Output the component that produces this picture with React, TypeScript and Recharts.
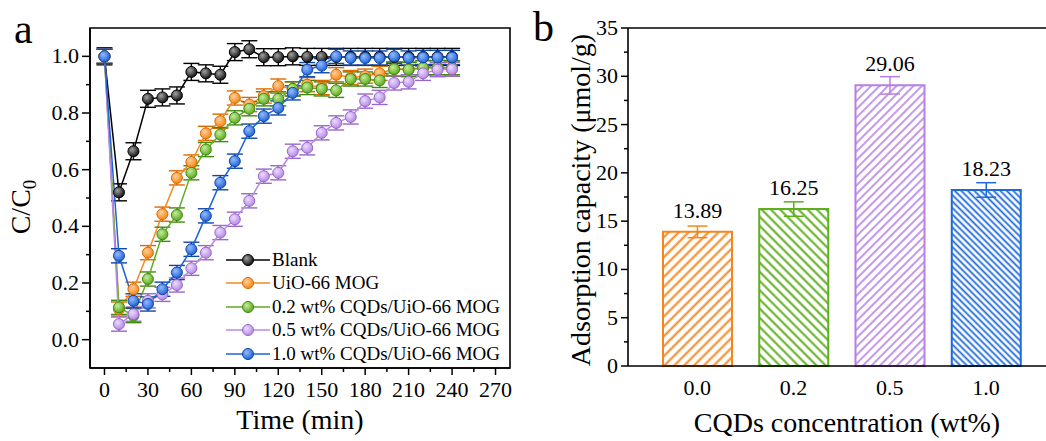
import React from 'react';
import {
  LineChart, Line, XAxis, YAxis, ErrorBar, ReferenceArea, ReferenceLine, Legend,
  BarChart, Bar, LabelList,
} from 'recharts';

// ---- panel a: C/C0 vs time ----
const times = [0, 10, 20, 30, 40, 50, 60, 70, 80, 90, 100, 110, 120, 130, 140, 150, 160, 170, 180, 190, 200, 210, 220, 230, 240];
const blank = [1.0, 0.52, 0.665, 0.85, 0.855, 0.862, 0.945, 0.94, 0.935, 1.015, 1.025, 0.997, 0.997, 1.0, 0.998, 0.998, 0.998, 0.998, 0.998, 0.998, 0.998, 0.998, 0.998, 0.998, 0.998];
const uio = [1.0, 0.108, 0.178, 0.307, 0.443, 0.571, 0.627, 0.728, 0.771, 0.853, 0.83, 0.86, 0.895, 0.885, 0.9, 0.89, 0.935, 0.925, 0.93, 0.94, 0.955, 0.955, 0.96, 0.96, 0.955];
const cqd02 = [1.0, 0.114, 0.085, 0.214, 0.372, 0.44, 0.589, 0.671, 0.724, 0.783, 0.815, 0.85, 0.85, 0.885, 0.89, 0.885, 0.88, 0.92, 0.92, 0.915, 0.955, 0.953, 0.96, 0.96, 0.96];
const cqd05 = [1.0, 0.055, 0.09, 0.137, 0.16, 0.193, 0.252, 0.307, 0.378, 0.425, 0.49, 0.577, 0.589, 0.665, 0.677, 0.73, 0.765, 0.786, 0.842, 0.855, 0.906, 0.91, 0.94, 0.953, 0.955];
const cqd10 = [1.0, 0.296, 0.137, 0.126, 0.178, 0.237, 0.319, 0.437, 0.554, 0.63, 0.736, 0.789, 0.818, 0.871, 0.953, 0.967, 1.0, 0.994, 0.994, 0.994, 1.0, 0.994, 0.996, 0.996, 0.996];
const seriesErr = [0.03, 0.025, 0.025, 0.025, 0.025];

const xTicksA = [0, 15, 30, 45, 60, 75, 90, 105, 120, 135, 150, 165, 180, 195, 210, 225, 240, 255, 270];
const yTicksA = [0, 0.1, 0.2, 0.3, 0.4, 0.5, 0.6, 0.7, 0.8, 0.9, 1.0];

const seriesA = [
  { key: 'blank', name: 'Blank', vals: blank, line: '#000000', base: '#0a0a0a', light: '#a0a0a0', edge: '#000000' },
  { key: 'uio', name: 'UiO-66 MOG', vals: uio, line: '#f7891f', base: '#f5820f', light: '#ffd09a', edge: '#d96a00' },
  { key: 'c02', name: '0.2 wt% CQDs/UiO-66 MOG', vals: cqd02, line: '#5fae22', base: '#56a618', light: '#c4ec9a', edge: '#3f8a10' },
  { key: 'c05', name: '0.5 wt% CQDs/UiO-66 MOG', vals: cqd05, line: '#b98ae6', base: '#b384e3', light: '#ecdcff', edge: '#9866cc' },
  { key: 'c10', name: '1.0 wt% CQDs/UiO-66 MOG', vals: cqd10, line: '#1c63d6', base: '#1a5fd2', light: '#94bbff', edge: '#0d47a8' },
];

const rowsA = times.map((t, i) => {
  const r: any = { t };
  seriesA.forEach((s, j) => {
    r[s.key] = s.vals[i];
    r[s.key + 'Err'] = seriesErr[j];
  });
  return r;
});

// ---- panel b: adsorption capacity ----
const cats = ['0.0', '0.2', '0.5', '1.0'];
const capacity = [13.89, 16.25, 29.06, 18.23];
const capErr = [0.6, 0.75, 0.9, 0.75];
const barColors = ['#f7851e', '#5fae1e', '#b67fe6', '#1e6ad8'];
const yTicksB = [0, 2.5, 5, 7.5, 10, 12.5, 15, 17.5, 20, 22.5, 25, 27.5, 30, 32.5, 35];

const rowsB = cats.map((c, i) => {
  const r: any = { cat: c };
  r['v' + i] = capacity[i];
  r['e' + i] = capErr[i];
  return r;
});

const FONT = "'Liberation Serif', 'Times New Roman', serif";

const XTickA = ({ x, y, payload }: any) => {
  const major = payload.value % 30 === 0;
  return (
    <g>
      <line x1={x} x2={x} y1={y} y2={y + (major ? 7 : 4)} stroke="#000" strokeWidth={1.5} />
      {major && <text x={x} y={y + 29} textAnchor="middle" fontSize={22} fill="#000">{payload.value}</text>}
    </g>
  );
};

const YTickA = ({ x, y, payload }: any) => {
  const major = Math.round(payload.value * 10) % 2 === 0;
  return (
    <g>
      <line x1={x} x2={x - (major ? 8 : 4)} y1={y} y2={y} stroke="#000" strokeWidth={1.5} />
      {major && <text x={x - 11} y={y + 7} textAnchor="end" fontSize={22} fill="#000">{payload.value.toFixed(1)}</text>}
    </g>
  );
};

const YTickB = ({ x, y, payload }: any) => {
  const major = payload.value % 5 === 0;
  return (
    <g>
      <line x1={x} x2={x - (major ? 7 : 4)} y1={y} y2={y} stroke="#000" strokeWidth={1.5} />
      {major && <text x={x - 10} y={y + 7} textAnchor="end" fontSize={22} fill="#000">{payload.value}</text>}
    </g>
  );
};

const XTickB = ({ x, y, payload }: any) => (
  <text x={x} y={y + 29} textAnchor="middle" fontSize={22} fill="#000">{payload.value}</text>
);

const makeDot = (s: any) => (p: any) => (
  <circle key={`${s.key}-${p.index}`} cx={p.cx} cy={p.cy} r={5.5} fill={`url(#ga-${s.key})`} stroke={s.edge} strokeWidth={1} />
);

const LegendA = () => (
  <div style={{ fontSize: 19, color: '#000', fontFamily: FONT }}>
    {seriesA.map((s) => (
      <div key={s.key} style={{ display: 'flex', alignItems: 'center', height: 23.5, whiteSpace: 'nowrap' }}>
        <svg width={47} height={20} style={{ flex: 'none' }}>
          <line x1={1} x2={45} y1={10} y2={10} stroke={s.line} strokeWidth={1.5} />
          <circle cx={23} cy={10} r={5.5} fill={`url(#ga-${s.key})`} stroke={s.edge} strokeWidth={1} />
        </svg>
        <span>{s.name}</span>
      </div>
    ))}
  </div>
);

export default function App() {
  return (
    <div style={{ position: 'absolute', left: 0, top: 0, width: 1046, height: 441, overflow: 'hidden', background: '#fff', fontFamily: FONT }}>
      <div style={{ position: 'absolute', left: 14, top: 8, fontSize: 42, lineHeight: '42px' }}>a</div>
      <div style={{ position: 'absolute', left: 533, top: 6, fontSize: 42, lineHeight: '42px' }}>b</div>

      <div style={{ position: 'absolute', left: 0, top: 0 }}>
        <LineChart width={520} height={441} data={rowsA} margin={{ top: 28, right: 10, bottom: 0, left: 0 }}>
          <defs>
            {seriesA.map((s) => (
              <radialGradient key={s.key} id={`ga-${s.key}`} cx="38%" cy="35%" r="70%">
                <stop offset="0%" stopColor={s.light} />
                <stop offset="100%" stopColor={s.base} />
              </radialGradient>
            ))}
          </defs>
          <XAxis
            dataKey="t" type="number" domain={[-10, 280]} ticks={xTicksA} interval={0}
            height={73} tickSize={0} tickMargin={0} tickLine={false} tick={<XTickA />}
            axisLine={{ stroke: '#000', strokeWidth: 1.6 }} allowDataOverflow
          />
          <YAxis
            type="number" domain={[-0.1, 1.1]} ticks={yTicksA} interval={0}
            width={90} tickSize={0} tickMargin={0} tickLine={false} tick={<YTickA />}
            axisLine={{ stroke: '#000', strokeWidth: 1.6 }} allowDataOverflow
          />
          <ReferenceArea x1={-10} x2={280} y1={-0.1} y2={1.1} fill="none" stroke="#000" strokeWidth={1.6} />
          {seriesA.map((s) => (
            <Line
              key={s.key} dataKey={s.key} name={s.name} type="linear" stroke={s.line} strokeWidth={1.5}
              dot={makeDot(s)} activeDot={false} isAnimationActive={false}
            >
              <ErrorBar dataKey={s.key + 'Err'} direction="y" width={8} stroke={s.edge} strokeWidth={1.4} />
            </Line>
          ))}
          <Legend layout="vertical" align="center" verticalAlign="middle" content={<LegendA />}
            wrapperStyle={{ left: 225, top: 248, width: 300 }} />
        </LineChart>
      </div>

      {/* axis titles for panel a */}
      <div style={{ position: 'absolute', left: 200, top: 404, width: 200, textAlign: 'center', fontSize: 28, lineHeight: '32px' }}>Time (min)</div>
      <svg width={60} height={441} style={{ position: 'absolute', left: 0, top: 0 }}>
        <text x={30} y={207} transform="rotate(-90 30 207)" textAnchor="middle" fontSize={28} fill="#000" fontFamily={FONT}>
          C/C<tspan fontSize={19} dy={6}>0</tspan>
        </text>
      </svg>

      <div style={{ position: 'absolute', left: 520, top: 0 }}>
        <BarChart width={560} height={441} data={rowsB} margin={{ top: 28, right: 0, bottom: 0, left: 0 }}>
          <defs>
            {barColors.map((c, i) => {
              const spacing = [7, 6.5, 6, 4.6][i];
              const sw = [2, 2, 1.6, 1.8][i];
              const ang = i % 2 === 0 ? 45 : -45;
              return (
                <pattern key={i} id={`hb${i}`} patternUnits="userSpaceOnUse" width={spacing} height={spacing} patternTransform={`rotate(${ang})`}>
                  <rect width={spacing} height={spacing} fill="#fff" />
                  <line x1={spacing / 2} x2={spacing / 2} y1={0} y2={spacing} stroke={c} strokeWidth={sw} />
                </pattern>
              );
            })}
          </defs>
          <XAxis
            dataKey="cat" type="category" height={75} padding={{ left: 21, right: 46 }}
            tickSize={0} tickMargin={0} tickLine={false} tick={<XTickB />}
            axisLine={{ stroke: '#000', strokeWidth: 1.6 }}
          />
          <YAxis
            type="number" domain={[0, 35]} ticks={yTicksB} interval={0}
            width={108} tickSize={0} tickMargin={0} tickLine={false} tick={<YTickB />}
            axisLine={{ stroke: '#000', strokeWidth: 1.6 }}
          />
          <ReferenceLine y={35} stroke="#000" strokeWidth={1.6} />
          {cats.map((c, i) => (
            <Bar key={c} dataKey={'v' + i} stackId="s" barSize={69} fill={`url(#hb${i})`} stroke={barColors[i]} strokeWidth={2}
              isAnimationActive={false}>
              <ErrorBar dataKey={'e' + i} direction="y" width={10} stroke={barColors[i]} strokeWidth={1.5} />
              <LabelList dataKey={'v' + i} position="top" offset={14} fontSize={22} fill="#000"
                formatter={(v: any) => (typeof v === 'number' ? v.toFixed(2) : '')} />
            </Bar>
          ))}
        </BarChart>
      </div>

      {/* axis titles for panel b */}
      <div style={{ position: 'absolute', left: 667, top: 407, width: 360, textAlign: 'center', fontSize: 28, lineHeight: '32px' }}>CQDs concentration (wt%)</div>
      <svg width={80} height={441} style={{ position: 'absolute', left: 520, top: 0 }}>
        <text x={70} y={200} transform="rotate(-90 70 200)" textAnchor="middle" fontSize={28} fill="#000" fontFamily={FONT}>
          Adsorption capacity (μmol/g)
        </text>
      </svg>
    </div>
  );
}
